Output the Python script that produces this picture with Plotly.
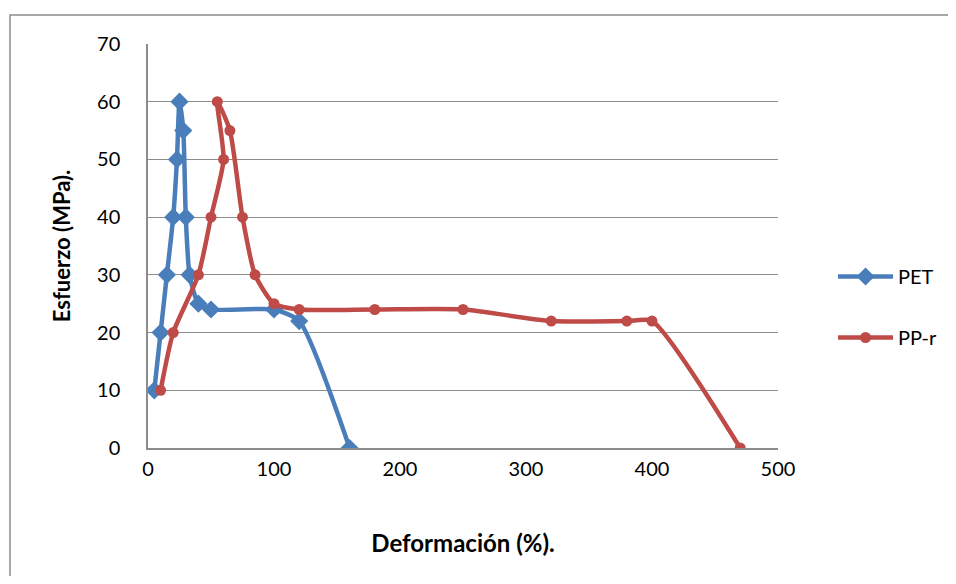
import plotly.graph_objects as go

# Data
pet_x = [5, 10, 15, 20, 23, 25, 28, 30, 33, 40, 50, 100, 120, 160]
pet_y = [10, 20, 30, 40, 50, 60, 55, 40, 30, 25, 24, 24, 22, 0]

ppr_x = [10, 20, 40, 50, 60, 55, 65, 75, 85, 100, 120, 180, 250, 320, 380, 400, 470]
ppr_y = [10, 20, 30, 40, 50, 60, 55, 40, 30, 25, 24, 24, 24, 22, 22, 22, 0]

x_ticks = [0, 100, 200, 300, 400, 500]
y_ticks = [0, 10, 20, 30, 40, 50, 60, 70]

FONT = "Lato"
BLUE = "#4A7EBB"
RED = "#BE4B48"
GRID = "#8C8C8C"

fig = go.Figure()
fig.add_trace(go.Scatter(
    x=pet_x, y=pet_y, name="PET", mode="lines+markers", legendgroup="a",
    line=dict(color=BLUE, width=4.5, shape="spline", smoothing=0.6),
    marker=dict(symbol="diamond", size=14, color=BLUE),
))
fig.add_trace(go.Scatter(
    x=ppr_x, y=ppr_y, name="PP-r", mode="lines+markers", legendgroup="b",
    line=dict(color=RED, width=4.5, shape="spline", smoothing=0.6),
    marker=dict(symbol="circle", size=11, color=RED),
))

fig.update_layout(
    width=940, height=568,
    margin=dict(l=140, r=170, t=36, b=128),
    paper_bgcolor="white", plot_bgcolor="white",
    font=dict(family=FONT, size=20, color="black"),
    showlegend=True,
    legend=dict(
        xref="container", yref="container",
        x=0.8777, xanchor="left", y=0.4736, yanchor="middle",
        font=dict(family=FONT, size=20, color="black"),
        tracegroupgap=32, traceorder="grouped", itemwidth=55,
        bgcolor="rgba(0,0,0,0)",
    ),
    xaxis=dict(
        range=[0, 500], tickvals=x_ticks, ticktext=[str(v) for v in x_ticks],
        showgrid=False, zeroline=False, showline=True, linecolor=GRID, linewidth=1.5,
        ticks="", ticklabelstandoff=2,
        tickfont=dict(family=FONT, size=20),
        title=dict(text="<b>Deformación (%).</b>", font=dict(family=FONT, size=24), standoff=56),
    ),
    yaxis=dict(
        range=[0, 70], tickvals=y_ticks, ticktext=[str(v) for v in y_ticks],
        showgrid=True, gridcolor=GRID, gridwidth=1,
        zeroline=False, showline=True, linecolor=GRID, linewidth=1.5,
        ticks="", ticklabelstandoff=22,
        tickfont=dict(family=FONT, size=20),
        title=dict(text="<b>Esfuerzo (MPa).</b>", font=dict(family=FONT, size=22), standoff=20),
    ),
    shapes=[dict(type="rect", xref="paper", yref="paper",
                 x0=-0.219, x1=1.4, y0=-0.5, y1=1.072,
                 line=dict(color=GRID, width=1.5), fillcolor="rgba(0,0,0,0)", layer="below")],
)

fig.write_html("out.html")
